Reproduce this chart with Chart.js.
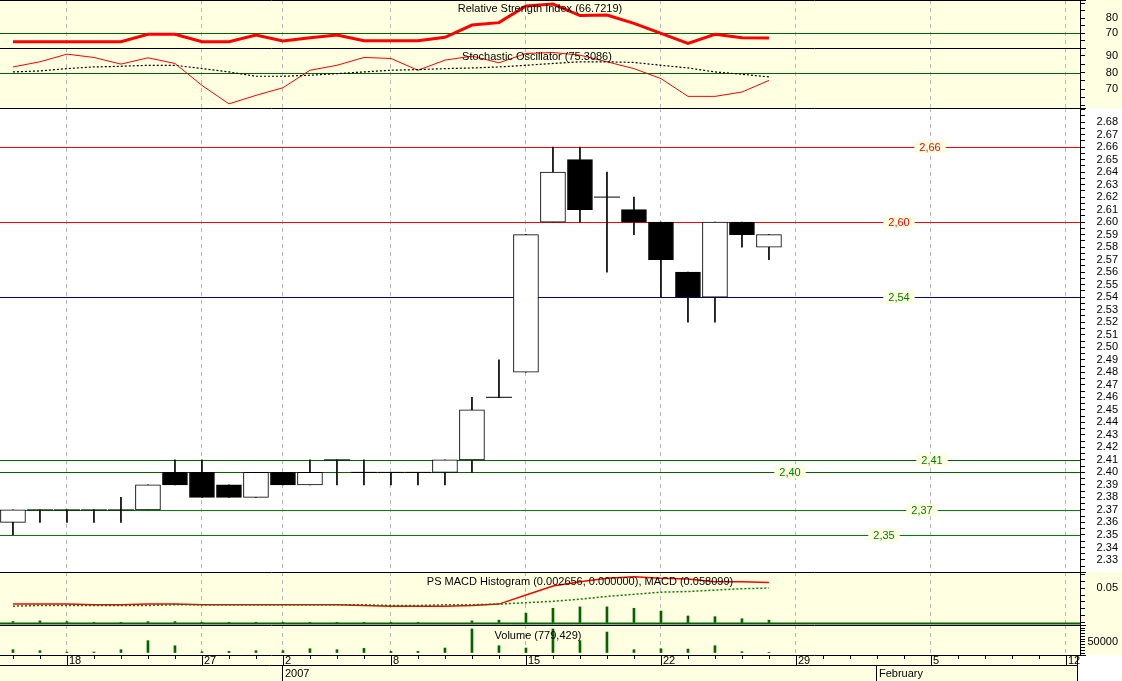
<!DOCTYPE html>
<html>
<head>
<meta charset="utf-8">
<script src="https://cdn.jsdelivr.net/npm/chart.js@4"></script>
<style>
  body { margin: 0; width: 1122px; height: 681px; overflow: hidden; background: #fff; }
  canvas { position: absolute; left: 0; }
</style>
</head>
<body>
<canvas id="rsi"></canvas>
<canvas id="stoch"></canvas>
<canvas id="price"></canvas>
<canvas id="macd"></canvas>
<canvas id="vol"></canvas>
<canvas id="dates"></canvas>
<script>
// one entry per trading day, index 0 = Dec 14 2006
const opens  = [2.36,2.37,2.37,2.37,2.37,2.37,2.40,2.40,2.39,2.38,2.40,2.39,2.41,2.40,2.40,2.40,2.40,2.41,2.46,2.48,2.60,2.65,2.62,2.61,2.60,2.56,2.54,2.60,2.58];
const highs  = [2.37,2.37,2.37,2.37,2.38,2.39,2.41,2.41,2.39,2.40,2.40,2.41,2.41,2.41,2.40,2.40,2.41,2.46,2.49,2.59,2.66,2.66,2.64,2.62,2.60,2.56,2.60,2.60,2.59];
const lows   = [2.35,2.36,2.36,2.36,2.36,2.37,2.39,2.38,2.38,2.38,2.39,2.39,2.39,2.39,2.39,2.39,2.39,2.40,2.46,2.48,2.60,2.60,2.56,2.59,2.54,2.52,2.52,2.58,2.57];
const closes = [2.37,2.37,2.37,2.37,2.37,2.39,2.39,2.38,2.38,2.40,2.39,2.40,2.41,2.40,2.40,2.40,2.41,2.45,2.46,2.59,2.64,2.61,2.62,2.60,2.57,2.54,2.60,2.59,2.59];
const rsi    = [64.2,64.2,64.2,64.2,64.2,69.1,69.1,64.2,64.2,68.7,64.7,66.9,68.7,64.9,64.9,64.9,67.1,75.3,76.9,88.0,89.3,81.6,82.0,76.4,69.8,63.1,69.1,66.9,66.7];
const stochK = [83.4,86.5,91.1,89.1,85.1,88.9,85.5,72.3,61.2,66.3,70.9,81.4,84.4,89.1,88.5,81.4,87.5,89.9,85.9,91.5,92.1,90.5,86.5,82.4,76.4,65.7,65.7,68.3,75.3];
const stochD = [80.4,81.0,82.4,83.4,83.8,84.4,84.4,82.4,80.4,77.8,77.8,78.4,79.4,80.4,81.4,81.8,82.4,82.8,83.4,84.4,85.5,86.5,86.5,86.1,84.4,82.8,80.4,79.0,77.4];
const macd   = [0.027,0.027,0.027,0.026,0.026,0.027,0.027,0.026,0.026,0.026,0.026,0.026,0.026,0.025,0.024,0.024,0.024,0.025,0.027,0.040,0.053,0.059,0.064,0.066,0.064,0.063,0.059,0.059,0.058];
const signal = [0.024,0.025,0.025,0.025,0.025,0.025,0.026,0.026,0.026,0.026,0.026,0.026,0.026,0.026,0.025,0.025,0.026,0.026,0.027,0.029,0.031,0.034,0.038,0.041,0.044,0.045,0.047,0.049,0.050];
const hist   = [0.002,0.003,0.002,0.001,0.001,0.002,0.002,0.001,0.001,0.001,0.001,0.001,0.001,0.001,0.001,0.001,-0.001,0.003,0.004,0.014,0.021,0.023,0.023,0.021,0.017,0.010,0.009,0.006,0.004];
const volume = [15000,10500,4500,4500,15000,56000,33000,6000,7500,10500,10500,19500,15000,21000,7500,7500,22500,109000,33000,22500,109000,56000,95000,15000,19500,18000,33000,6000,3000];

const weekIdx    = [2,7,10,14,19,24,29,34,39];
const weekLabels = ['18','27','2','8','15','22','29','5','12'];
const monthIdx    = [10,32];
const monthLabels = ['2007','February'];

const levelValues = [2.66,2.60,2.54,2.41,2.40,2.37,2.35];
const levelLabels = ['2,66','2,60','2,54','2,41','2,40','2,37','2,35'];
const levelColors = ['#ff0000','#ff0000','#000080','#006400','#006400','#008000','#008000'];
const levelText   = ['#ff0000','#ff0000','#008000','#008000','#008000','#008000','#008000'];
const levelLabelX = [930,899,899,932,790,922,884];

const YELLOW = '#ffffe1';
const FONT = '11px "Liberation Sans", Arial, sans-serif';
const days = opens.map((_, i) => i);

function frame(cfg) {
  return {
    id: 'frame',
    beforeDraw(chart) {
      const c = chart.ctx, h = chart.height;
      c.save();
      c.fillStyle = cfg.bg; c.fillRect(0, 0, 1122, h);
      c.restore();
    },
    beforeDatasetsDraw(chart) {
      const c = chart.ctx, y = chart.scales.y;
      c.save();
      (cfg.hlines || []).forEach(l => {
        const py = Math.round(y.getPixelForValue(l.v)) + 0.5;
        c.strokeStyle = l.c; c.lineWidth = l.w || 1;
        c.beginPath(); c.moveTo(0, py); c.lineTo(1080, py); c.stroke();
      });
      c.restore();
    },
    afterDraw(chart) {
      const c = chart.ctx, y = chart.scales.y;
      c.save();
      c.strokeStyle = '#000'; c.lineWidth = 1;
      c.beginPath(); c.moveTo(0, 0.5); c.lineTo(1086, 0.5); c.stroke();
      c.font = FONT; c.fillStyle = '#000';
      c.textAlign = 'right'; c.textBaseline = 'middle';
      cfg.ticks.forEach(v => {
        const t = cfg.fmt(v);
        if (t) c.fillText(t, 1118, y.getPixelForValue(v));
      });
      if (cfg.title) {
        c.textAlign = 'center';
        c.fillText(cfg.title, cfg.titleX, cfg.titleY);
      }
      c.restore();
    }
  };
}

function panel(id, top, height, cfg) {
  const el = document.getElementById(id);
  el.style.top = top + 'px';
  el.width = 1122; el.height = height;
  return new Chart(el, {
    type: cfg.type || 'line',
    data: { datasets: cfg.datasets },
    options: {
      responsive: false, animation: false, devicePixelRatio: 1,
      layout: { padding: 0, autoPadding: false },
      plugins: { legend: { display: false }, tooltip: { enabled: false } },
      scales: {
        x: {
          type: 'linear', min: -0.48, max: 39.52, offset: false,
          afterBuildTicks: s => { s.ticks = weekIdx.map(v => ({ value: v })); },
          afterFit: s => { s.height = 0; },
          ticks: { display: false },
          grid: { color: '#b8b8b8', drawTicks: false, lineWidth: 1, offset: false },
          border: { display: false, dash: [4, 4] }
        },
        y: {
          position: 'right', min: cfg.min, max: cfg.max,
          afterBuildTicks: s => { s.ticks = cfg.ticks.map(v => ({ value: v })); },
          afterFit: s => { s.width = 42; },
          ticks: { display: false },
          grid: { drawOnChartArea: false, drawTicks: true, tickLength: 5, color: '#000' },
          border: { display: true, color: '#000' }
        }
      }
    },
    plugins: [frame(cfg)].concat(cfg.plugins || [])
  });
}

function range(a, b, step) {
  const out = [];
  for (let v = a; v <= b + step / 10; v += step) out.push(Math.round(v * 10000) / 10000);
  return out;
}
const pts = arr => arr.map((v, i) => ({ x: i, y: v }));

// RSI
panel('rsi', 0, 48, {
  bg: YELLOW, min: 60, max: 92, ticks: range(60, 90, 5),
  fmt: v => (v === 70 || v === 80) ? String(v) : '',
  title: 'Relative Strength Index (66.7219)', titleX: 540, titleY: 9,
  hlines: [{ v: 70, c: '#006400' }],
  datasets: [{ data: pts(rsi), borderColor: '#ff0000', borderWidth: 3, pointRadius: 0, tension: 0 }]
});

// Stochastic
panel('stoch', 48, 60, {
  bg: YELLOW, min: 58.7, max: 94.8, ticks: range(60, 90, 5),
  fmt: v => (v % 10 === 0 && v >= 70) ? String(v) : '',
  title: 'Stochastic Oscillator (75.3086)', titleX: 537, titleY: 9,
  hlines: [{ v: 80, c: '#006400' }],
  datasets: [
    { data: pts(stochD), borderColor: '#000', borderWidth: 1.2, borderDash: [2, 2], pointRadius: 0 },
    { data: pts(stochK), borderColor: '#ff0000', borderWidth: 1, pointRadius: 0 }
  ]
});

// Price (candles)
const levelPlugin = {
  id: 'levels',
  beforeDatasetsDraw(chart) {
    const c = chart.ctx, y = chart.scales.y;
    c.save();
    c.font = FONT; c.textAlign = 'center'; c.textBaseline = 'middle';
    levelValues.forEach((v, k) => {
      const py = Math.round(y.getPixelForValue(v)) + 0.5;
      c.strokeStyle = levelColors[k]; c.lineWidth = 1;
      c.beginPath(); c.moveTo(0, py); c.lineTo(1080, py); c.stroke();
      const tw = c.measureText(levelLabels[k]).width + 10;
      c.fillStyle = YELLOW; c.fillRect(levelLabelX[k] - tw / 2, py - 7, tw, 13);
      c.fillStyle = levelText[k];
      c.fillText(levelLabels[k], levelLabelX[k], py);
    });
    c.restore();
  }
};
const priceChart = panel('price', 108, 464, {
  type: 'bar', bg: '#ffffff', min: 2.3204, max: 2.6912, ticks: range(2.325, 2.69, 0.005),
  fmt: v => (Math.round(v * 1000) % 10 === 0 && v >= 2.33 && v <= 2.68) ? v.toFixed(2) : '',
  plugins: [levelPlugin],
  datasets: [
    { data: days.map(i => ({ x: i, y: [lows[i], highs[i]] })), backgroundColor: '#000',
      barThickness: 1, grouped: false, order: 2 },
    { data: days.map(i => ({ x: i, y: [opens[i], closes[i]] })),
      backgroundColor: days.map(i => closes[i] < opens[i] ? '#000' : '#fff'),
      borderColor: '#000', borderWidth: 1, borderSkipped: false, barThickness: 25, grouped: false, order: 1 },
    { type: 'scatter', data: days.filter(i => opens[i] === closes[i]).map(i => ({ x: i, y: opens[i] })),
      pointStyle: 'line', pointRadius: 13, borderColor: '#000', borderWidth: 1, order: 0 }
  ]
});

// MACD
panel('macd', 572, 53, {
  bg: YELLOW, min: -0.0029, max: 0.0729, ticks: range(0, 0.07, 0.01),
  fmt: v => Math.abs(v - 0.05) < 1e-6 ? '0.05' : '',
  title: 'PS MACD Histogram (0.002656, 0.000000), MACD (0.058099)', titleX: 580, titleY: 10,
  hlines: [{ v: 0, c: '#006400', w: 2 }],
  datasets: [
    { type: 'bar', data: pts(hist), backgroundColor: '#006400', barThickness: 2 },
    { data: pts(signal), borderColor: '#008000', borderWidth: 1.5, borderDash: [2, 2], pointRadius: 0 },
    { data: pts(macd), borderColor: '#ff0000', borderWidth: 1.5, pointRadius: 0 }
  ]
});

// Volume
panel('vol', 625, 30, {
  bg: YELLOW, min: -9000, max: 127000, ticks: range(0, 125000, 12500),
  fmt: v => v === 50000 ? '50000' : '',
  title: 'Volume (779,429)', titleX: 538, titleY: 11,
  datasets: [{ type: 'bar', data: pts(volume), backgroundColor: '#006400', barThickness: 2 }]
});

// Date axis, positioned with the price chart's x scale
const dateEl = document.getElementById('dates');
dateEl.style.top = '655px'; dateEl.width = 1122; dateEl.height = 26;
const px = i => priceChart.scales.x.getPixelForValue(i);
const dc = dateEl.getContext('2d');
dc.fillStyle = YELLOW; dc.fillRect(0, 0, 1078, 26);
dc.strokeStyle = '#000'; dc.lineWidth = 1;
dc.beginPath();
dc.moveTo(0, 0.5); dc.lineTo(1086, 0.5);
dc.moveTo(0, 10.5); dc.lineTo(1078, 10.5);
dc.moveTo(1077.5, 0); dc.lineTo(1077.5, 26);
for (let i = 0; i <= 39; i++) {
  const x = Math.round(px(i)) + 0.5;
  dc.moveTo(x, 0); dc.lineTo(x, weekIdx.includes(i) ? 10 : 4);
}
monthIdx.forEach(i => {
  const x = Math.round(px(i - 0.05)) + 0.5;
  dc.moveTo(x, 10); dc.lineTo(x, 26);
});
dc.stroke();
dc.font = FONT; dc.fillStyle = '#000'; dc.textBaseline = 'middle'; dc.textAlign = 'left';
weekIdx.forEach((i, k) => dc.fillText(weekLabels[k], px(i) + 2, 6));
monthIdx.forEach((i, k) => dc.fillText(monthLabels[k], px(i) + 2, 19));
</script>
</body>
</html>
